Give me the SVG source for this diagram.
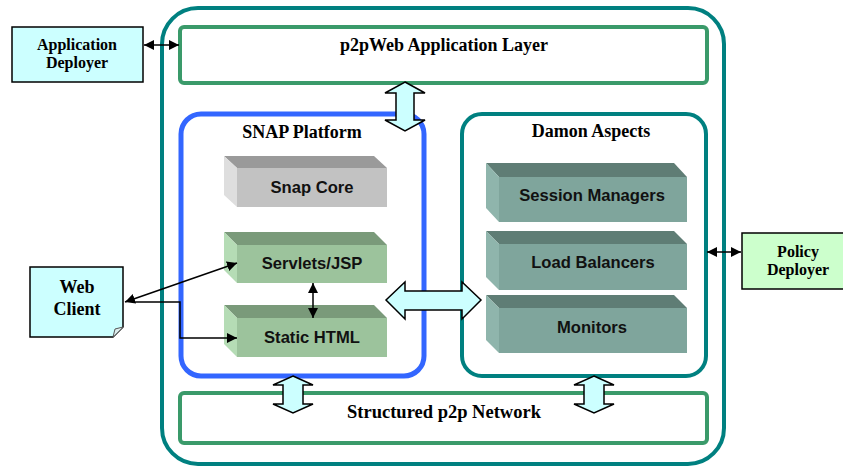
<svg xmlns="http://www.w3.org/2000/svg" width="843" height="469" viewBox="0 0 843 469">
<defs>
<style>
.ser{font-family:"Liberation Serif","Times New Roman",serif;font-weight:bold;fill:#000;text-anchor:middle}
.san{font-family:"Liberation Sans",Arial,sans-serif;font-weight:bold;fill:#111;text-anchor:middle;font-size:16.6px}
.teal{fill:none;stroke:#008080;stroke-width:4}
.grn{fill:none;stroke:#3a9a6a;stroke-width:4}
.blk{fill:#ccffff;stroke:#000;stroke-width:1.5}
.barrow{fill:#ccffff;stroke:#000;stroke-width:1.5;stroke-linejoin:miter}
.con{fill:none;stroke:#000;stroke-width:1.5}
</style>
<marker id="ah" viewBox="0 0 10 10" refX="10" refY="5" markerWidth="10" markerHeight="10" markerUnits="userSpaceOnUse" orient="auto-start-reverse">
<path d="M0,0 L10,5 L0,10 Z" fill="#000"/>
</marker>
</defs>
<rect width="843" height="469" fill="#fff"/>

<g id="outer"><rect x="162" y="8" width="562" height="456" rx="36" class="teal"/></g>

<g id="app-layer">
<rect x="180" y="27" width="527" height="56" rx="4" class="grn"/>
<text x="444" y="51" class="ser" font-size="18">p2pWeb Application Layer</text>
</g>

<g id="network">
<rect x="180" y="393" width="527" height="50" rx="4" class="grn"/>
<text x="444" y="418" class="ser" font-size="18.5">Structured p2p Network</text>
</g>

<g id="snap">
<rect x="181" y="114" width="243" height="262" rx="20" fill="none" stroke="#3366ff" stroke-width="5"/>
<text x="302" y="138" class="ser" font-size="18">SNAP Platform</text>
</g>

<g id="damon">
<rect x="462" y="114" width="244" height="262" rx="20" class="teal"/>
<text x="591" y="137" class="ser" font-size="18">Damon Aspects</text>
</g>

<g id="snap-core">
<polygon points="224,156 374,156 387,168 237,168" fill="#9a9a9a"/>
<polygon points="224,156 237,168 237,207 224,195" fill="#dedede"/>
<rect x="237" y="168" width="150" height="39" fill="#c2c2c2"/>
<text x="312" y="193" class="san">Snap Core</text>
</g>

<g id="servlets">
<polygon points="224,232 374,232 387,245 237,245" fill="#7a9a7a"/>
<polygon points="224,232 237,245 237,283 224,270" fill="#b5dcb5"/>
<rect x="237" y="245" width="150" height="38" fill="#9cc39c"/>
<text x="312" y="269" class="san">Servlets/JSP</text>
</g>

<g id="static-html">
<polygon points="224,305 374,305 387,318 237,318" fill="#7a9a7a"/>
<polygon points="224,305 237,318 237,357 224,344" fill="#b5dcb5"/>
<rect x="237" y="318" width="150" height="39" fill="#9cc39c"/>
<text x="312" y="343" class="san">Static HTML</text>
</g>

<g id="session-managers">
<polygon points="486,163 674,163 687,177 499,177" fill="#5f7d75"/>
<polygon points="486,163 499,177 499,222 486,208" fill="#8fb5ac"/>
<rect x="499" y="177" width="188" height="45" fill="#7fa59c"/>
<text x="592" y="201" class="san">Session Managers</text>
</g>

<g id="load-balancers">
<polygon points="486,231 674,231 687,244 499,244" fill="#5f7d75"/>
<polygon points="486,231 499,244 499,290 486,277" fill="#8fb5ac"/>
<rect x="499" y="244" width="188" height="46" fill="#7fa59c"/>
<text x="593" y="268" class="san">Load Balancers</text>
</g>

<g id="monitors">
<polygon points="486,295 674,295 687,308 499,308" fill="#5f7d75"/>
<polygon points="486,295 499,308 499,353 486,340" fill="#8fb5ac"/>
<rect x="499" y="308" width="188" height="45" fill="#7fa59c"/>
<text x="592" y="333" class="san">Monitors</text>
</g>

<g id="app-deployer">
<rect x="12" y="27" width="131" height="55" class="blk"/>
<text x="77" y="50" class="ser" font-size="16">Application</text>
<text x="77" y="68" class="ser" font-size="16">Deployer</text>
</g>

<g id="policy-deployer">
<rect x="742" y="233" width="112" height="56" fill="#ccffcc" stroke="#000" stroke-width="1.5"/>
<text x="798" y="257" class="ser" font-size="16">Policy</text>
<text x="798" y="275" class="ser" font-size="16">Deployer</text>
</g>

<g id="web-client">
<path d="M30,267 H123 V327 L113,337 H30 Z" class="blk"/>
<path d="M113,337 L115,329 L123,327" fill="#ddeeee" stroke="#555" stroke-width="1"/>
<text x="77" y="293" class="ser" font-size="18">Web</text>
<text x="77" y="315" class="ser" font-size="18">Client</text>
</g>

<g id="connectors">
<line x1="144" y1="45" x2="179" y2="45" class="con" marker-start="url(#ah)" marker-end="url(#ah)"/>
<line x1="707" y1="252" x2="741" y2="252" class="con" marker-start="url(#ah)" marker-end="url(#ah)"/>
<line x1="125" y1="302" x2="237" y2="263" class="con" marker-start="url(#ah)" marker-end="url(#ah)"/>
<polyline points="133,302 180,302 180,338 237,338" class="con" marker-end="url(#ah)"/>
<line x1="313" y1="283" x2="313" y2="318" class="con" marker-start="url(#ah)" marker-end="url(#ah)"/>
<polygon class="barrow" points="405,82 425,93 414,93 414,120 425,120 405,131 385,120 396,120 396,93 385,93"/>
<polygon class="barrow" points="386,300 405,282 405,291 462,291 462,282 481,300 462,319 462,310 405,310 405,319"/>
<polygon class="barrow" points="293,376 313,385 303,385 303,404 313,404 293,413 273,404 283,404 283,385 273,385"/>
<polygon class="barrow" points="594,376 614,385 604,385 604,404 614,404 594,413 574,404 584,404 584,385 574,385"/>
</g>
</svg>
